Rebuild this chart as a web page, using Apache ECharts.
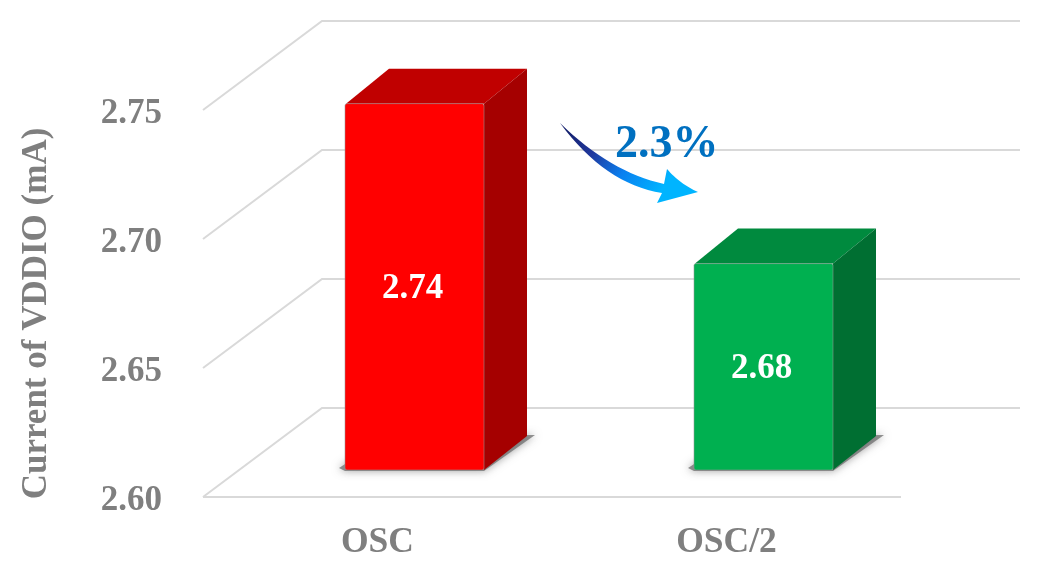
<!DOCTYPE html>
<html>
<head>
<meta charset="utf-8">
<style>html,body{margin:0;padding:0;background:#fff}#c{width:1050px;height:574px}</style>
<script src="https://cdn.jsdelivr.net/npm/echarts@6/dist/echarts.min.js"></script>
</head>
<body>
<div id="c"></div>
<script>
const categories = ['OSC', 'OSC/2'];
const currents = [2.742, 2.68];
const yTicks = [2.6, 2.65, 2.7, 2.75];
const axisTitle = 'Current of VDDIO (mA)';
const changeLabel = '2.3%';

const faces = [
  { front: '#FF0000', top: '#C00000', side: '#A50000' },
  { front: '#00B050', top: '#008A3E', side: '#006F32' }
];
const SERIF = '"Liberation Serif","Times New Roman",serif';
const GREY = '#7F7F7F';
const WALL = { dx: 119, dy: -89 };
const BAR_INSET = { dx: 37, dy: -27 };
const BAR_DEPTH = { dx: 43, dy: -34 };
const BAR_WIDTH = 139;

const chart = echarts.init(document.getElementById('c'), null, { renderer: 'canvas' });

function poly(points, fill, extra) {
  return { type: 'polygon', shape: { points }, style: Object.assign({ fill }, extra || {}), silent: true };
}
function quad(a, c, b) {
  const pts = [];
  for (let i = 0; i <= 16; i++) {
    const t = i / 16, u = 1 - t;
    pts.push([u * u * a[0] + 2 * u * t * c[0] + t * t * b[0], u * u * a[1] + 2 * u * t * c[1] + t * t * b[1]]);
  }
  return pts;
}
const arrowOutline = [].concat(
  quad([560, 123], [610, 172], [664, 184]),
  quad([667, 169], [680, 184], [698, 192]),
  [[657, 203]],
  quad([662, 193], [605, 184], [560, 123])
);

chart.setOption({
  backgroundColor: '#fff',
  animation: false,
  grid: { left: 203, right: 149, top: 110, bottom: 77 },
  xAxis: {
    type: 'category', data: categories,
    axisLine: { show: false }, axisTick: { show: false },
    axisLabel: { color: GREY, fontFamily: SERIF, fontWeight: 'bold', fontSize: 35.5, margin: 28 }
  },
  yAxis: {
    type: 'value', min: 2.6, max: 2.75, interval: 0.05,
    axisLine: { show: false }, axisTick: { show: false }, splitLine: { show: false },
    axisLabel: { color: GREY, fontFamily: SERIF, fontWeight: 'bold', fontSize: 35, margin: 41,
      verticalAlign: 'top', lineHeight: 8, formatter: v => v.toFixed(2) },
    name: axisTitle, nameLocation: 'middle', nameRotate: 90, nameGap: 149,
    nameTextStyle: { color: GREY, fontFamily: SERIF, fontWeight: 'bold', fontSize: 35, padding: [0, 20, 0, 0] }
  },
  series: [
    {
      type: 'custom', coordinateSystem: 'cartesian2d', clip: false, z: 1,
      encode: { x: 0, y: 1 },
      data: yTicks.map(t => [0, t]),
      renderItem(params, api) {
        const cs = params.coordSys;
        const y = api.coord([0, api.value(1)])[1];
        const x0 = cs.x, x1 = cs.x + cs.width;
        const style = { stroke: '#D9D9D9', lineWidth: 2, fill: 'none' };
        const children = [{
          type: 'polyline', silent: true, style,
          shape: { points: [[x0, y], [x0 + WALL.dx, y + WALL.dy], [x1 + WALL.dx, y + WALL.dy]] }
        }];
        if (params.dataIndex === 0) {
          children.push({
            type: 'line', silent: true, style,
            shape: { x1: x0, y1: y, x2: x1, y2: y }
          });
        }
        return { type: 'group', children };
      }
    },
    {
      type: 'custom', coordinateSystem: 'cartesian2d', clip: false, z: 2,
      encode: { x: 0, y: 1 },
      data: categories.map((c, i) => [i, currents[i]]),
      renderItem(params, api) {
        const f = faces[params.dataIndex];
        const base = api.coord([api.value(0), 2.6]);
        const top = api.coord([api.value(0), api.value(1)]);
        const l = base[0] + BAR_INSET.dx - BAR_WIDTH / 2;
        const r = l + BAR_WIDTH;
        const b = base[1] + BAR_INSET.dy;
        const t = top[1] + BAR_INSET.dy;
        const d = BAR_DEPTH;
        return {
          type: 'group',
          children: [
            poly([[l - 6, b - 2], [l, b + 1], [r, b + 1], [r + d.dx + 8, b + d.dy - 1], [l + d.dx, b + d.dy]], 'rgba(110,110,110,0.75)',
              { shadowBlur: 9, shadowColor: 'rgba(90,90,90,0.75)' }),
            poly([[l + 1, t], [l + d.dx + 1, t + d.dy - 1], [r + d.dx, t + d.dy - 1], [r, t]], f.top),
            poly([[r, t], [r + d.dx, t + d.dy - 1], [r + d.dx, b + d.dy], [r, b]], f.side),
            {
              type: 'rect', silent: true,
              shape: { x: l, y: t, width: BAR_WIDTH, height: b - t, r: 2 },
              style: { fill: f.front, stroke: 'rgba(150,150,150,0.55)', lineWidth: 1 }
            },
            {
              type: 'text', silent: true,
              style: {
                x: (l + r) / 2 - 2, y: (t + b) / 2 + 2, text: api.value(1).toFixed(2),
                fill: '#fff', font: 'bold 35px ' + SERIF, align: 'center', verticalAlign: 'middle'
              }
            }
          ]
        };
      }
    }
  ],
  graphic: [
    {
      type: 'polygon', z: 5, silent: true,
      shape: { points: arrowOutline },
      style: {
        fill: new echarts.graphic.LinearGradient(0.1, 0, 0.75, 0.8, [
          { offset: 0, color: '#14206E' },
          { offset: 0.3, color: '#20399E' },
          { offset: 0.62, color: '#0A7FEF' },
          { offset: 1, color: '#00B4FF' }
        ])
      }
    },
    {
      type: 'text', z: 6, silent: true, left: 615, top: 122,
      style: { text: changeLabel, fill: '#0070C0', font: 'bold 46px ' + SERIF }
    }
  ]
});
</script>
</body>
</html>
